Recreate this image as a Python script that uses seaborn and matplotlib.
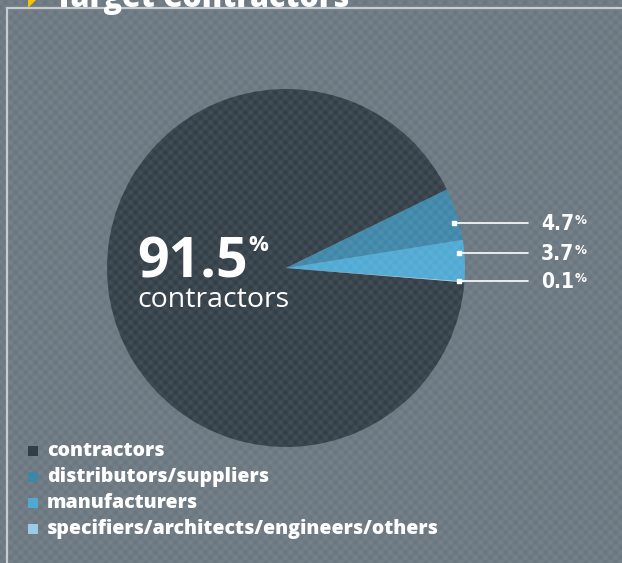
import numpy as np
import matplotlib
matplotlib.use("Agg")
import matplotlib.pyplot as plt
from matplotlib.patches import Rectangle, Polygon
import seaborn as sns

# Audience breakdown
categories = ["contractors", "distributors/suppliers", "manufacturers",
              "specifiers/architects/engineers/others"]
shares = [91.5, 4.7, 3.7, 0.1]
share_labels = ["91.5", "4.7", "3.7", "0.1"]
colors = ["#323e47", "#3d86a8", "#4ea9d3", "#9ccbe5"]
title = "Target Contractors"
center_caption = "contractors"

sns.set_theme(style="white")
plt.rcParams["font.family"] = ["Open Sans", "DejaVu Sans"]

W, H = 622, 563
BG = "#6a767f"
fig = plt.figure(figsize=(W / 100, H / 100), dpi=100, facecolor=BG)
ax = fig.add_axes([0, 0, 1, 1])
ax.set_facecolor(BG)

# pie, working in pixel coordinates (y measured from the bottom)
cx, cy, R = 286, H - 268, 179
top_edge = 26  # angle where the small slices begin
start = top_edge + 3.6 * shares[0]
ax.pie(shares, colors=colors, startangle=start, counterclock=False,
       center=(cx, cy), radius=R, wedgeprops=dict(linewidth=0))
ax.set_xlim(0, W)
ax.set_ylim(0, H)
ax.set_aspect("equal")
ax.axis("off")

# subtle dotted texture over background and pie
yy, xx = np.mgrid[0:H, 0:W]
pat = np.cos(2 * np.pi * xx / 10.0) * np.cos(2 * np.pi * yy / 10.0)
tex = np.zeros((H, W, 4))
tex[..., :3] = 1.0
tex[..., 3] = 0.045 * (1 + pat)
ax.imshow(tex, extent=(0, W, 0, H), origin="lower", zorder=3,
          interpolation="bilinear", aspect="auto")

# frame lines
ax.plot([7, 7, W + 5], [-5, H - 8, H - 8], color="#c7ccd0", lw=1.6,
        zorder=4, solid_joinstyle="miter")

# title (runs off the top of the canvas)
ax.add_patch(Polygon([(28, H + 8), (36, H), (28, H - 8)], closed=True,
                     color="#f5c400", zorder=5, lw=0))
ax.text(55, H - 7, title, color="white", fontsize=22, fontweight=800,
        ha="left", va="baseline", zorder=5)

fig.canvas.draw()
renderer = fig.canvas.get_renderer()


def pct_text(x, y, num, size, pct_size, weight, family, stretch="normal"):
    t = ax.text(x, y, num, color="white", fontsize=size, fontweight=weight,
                family=family, fontstretch=stretch, ha="left",
                va="baseline", zorder=6)
    bb = t.get_window_extent(renderer)
    t2 = ax.text(bb.x1 + 0.5, y + size * 1.39 * 0.76, "%", color="white",
                 fontsize=pct_size, fontweight=weight, family=family,
                 fontstretch=stretch, ha="left", va="top", zorder=6)
    return t, t2


# central label
pct_text(137, H - 277, share_labels[0], 40, 16, "bold",
         ["Open Sans", "DejaVu Sans"])
ax.text(137, H - 307, center_caption, color="white", fontsize=20.5,
        fontweight="normal", ha="left", va="baseline", zorder=6)

# leader lines for the small slices
row_y = [223, 253, 281]
line_end = 528
for i, ry in enumerate(row_y):
    y = H - ry
    r = 0.97 * R
    dx = np.sqrt(r ** 2 - (y - cy) ** 2)
    x0 = cx + dx
    ax.plot([x0, line_end], [y, y], color="white", lw=1.2, zorder=6)
    ax.plot([x0], [y], marker="s", ms=3, color="white", zorder=6)
    pct_text(541, y - 7, share_labels[i + 1], 15, 9.5, "bold",
             ["DejaVu Sans"], stretch="condensed")

# legend
leg_y = [456, 482, 508, 534]
for cat, col, ly in zip(categories, colors, leg_y):
    y = H - ly
    ax.add_patch(Rectangle((28, y), 10, 10, color=col, lw=0, zorder=6))
    ax.text(47, y, cat, color="white", fontsize=14, fontweight=800,
            ha="left", va="baseline", zorder=6)

fig.savefig("out.png", dpi=100, facecolor=BG)
